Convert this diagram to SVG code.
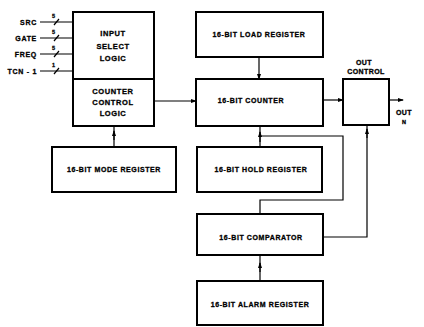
<svg xmlns="http://www.w3.org/2000/svg" width="424" height="327" viewBox="0 0 424 327">
<defs>
<marker id="ah" viewBox="0 0 6 6" refX="5" refY="3" markerWidth="6" markerHeight="6" markerUnits="userSpaceOnUse" orient="auto">
<path d="M0,1 L6,3 L0,5 Z" fill="#000"/>
</marker>
<style>
.box{fill:#fff;stroke:#000;stroke-width:2}
.ln{fill:none;stroke:#000;stroke-width:1.2}
.t{font-family:"Liberation Sans",Arial,sans-serif;font-weight:bold;font-size:7px;fill:#000;stroke:#000;stroke-width:0.3px;text-anchor:middle;letter-spacing:0.6px}
.s{font-family:"Liberation Sans",Arial,sans-serif;font-weight:bold;font-size:7px;fill:#000;stroke:#000;stroke-width:0.3px;letter-spacing:0.7px}
</style>
</defs>
<rect width="424" height="327" fill="#fff"/>
<g id="connectors">
<path class="ln" d="M40,22 H73 M40,38 H73 M40,54 H73 M40,71 H73"/>
<path class="ln" d="M54,25 L59,19 M54,41 L59,35 M54,57 L59,51 M54,74 L59,68"/>
<path class="ln" d="M154,101 H196" marker-end="url(#ah)"/>
<path class="ln" d="M259,57 V79" marker-end="url(#ah)"/>
<path class="ln" d="M323,100 H343" marker-end="url(#ah)"/>
<path class="ln" d="M389,100 H403" marker-end="url(#ah)"/>
<path class="ln" d="M114,147 V126"/>
<path class="ln" d="M114,140 V131" marker-end="url(#ah)"/>
<path class="ln" d="M260,147 V126 M260,136 H343 V200 H260 V214"/>
<path class="ln" d="M260,142 V132" marker-end="url(#ah)"/>
<path class="ln" d="M323,237 H367 V125"/>
<path class="ln" d="M367,138 V129" marker-end="url(#ah)"/>
<path class="ln" d="M260,281 V255"/>
<path class="ln" d="M260,272 V263" marker-end="url(#ah)"/>
</g>
<g id="inputs">
<text class="s" x="37" y="24.5" text-anchor="end">SRC</text>
<text class="s" x="37" y="40.5" text-anchor="end">GATE</text>
<text class="s" x="37" y="56.5" text-anchor="end">FREQ</text>
<text class="s" x="37" y="73.5" text-anchor="end">TCN - 1</text>
<text class="s" x="52" y="18" style="font-size:5.5px;letter-spacing:0">5</text>
<text class="s" x="52" y="34" style="font-size:5.5px;letter-spacing:0">5</text>
<text class="s" x="52" y="50" style="font-size:5.5px;letter-spacing:0">5</text>
<text class="s" x="52" y="67" style="font-size:5.5px;letter-spacing:0">1</text>
</g>
<g id="input-select">
<rect class="box" x="73" y="12" width="81" height="67"/>
<text class="t" x="113" y="36" style="font-size:7.5px">INPUT</text>
<text class="t" x="113" y="49" style="font-size:7.5px">SELECT</text>
<text class="t" x="113" y="61" style="font-size:7.5px">LOGIC</text>
</g>
<g id="counter-control">
<rect class="box" x="73" y="79" width="81" height="47"/>
<text class="t" x="113" y="93.5" style="font-size:7.5px">COUNTER</text>
<text class="t" x="113" y="104.5" style="font-size:7.5px">CONTROL</text>
<text class="t" x="113" y="115.5" style="font-size:7.5px">LOGIC</text>
</g>
<g id="mode-register">
<rect class="box" x="52" y="147" width="124" height="45"/>
<text class="t" x="114" y="172">16-BIT MODE REGISTER</text>
</g>
<g id="load-register">
<rect class="box" x="196" y="12" width="127" height="45"/>
<text class="t" x="259" y="37">16-BIT LOAD REGISTER</text>
</g>
<g id="counter">
<rect class="box" x="196" y="79" width="127" height="47"/>
<text class="t" x="251" y="103">16-BIT COUNTER</text>
</g>
<g id="out-control">
<rect class="box" x="343" y="79" width="46" height="46"/>
<text class="t" x="364" y="65" style="letter-spacing:0.4px">OUT</text>
<text class="t" x="366" y="74" style="letter-spacing:0.4px">CONTROL</text>
</g>
<g id="out">
<text class="t" x="404" y="115" style="letter-spacing:0.4px">OUT</text>
<text class="t" x="404" y="124" style="font-size:5.5px;letter-spacing:0">N</text>
</g>
<g id="hold-register">
<rect class="box" x="197" y="147" width="125" height="45"/>
<text class="t" x="261" y="172">16-BIT HOLD REGISTER</text>
</g>
<g id="comparator">
<rect class="box" x="197" y="214" width="126" height="41"/>
<text class="t" x="261" y="240">16-BIT COMPARATOR</text>
</g>
<g id="alarm-register">
<rect class="box" x="197" y="281" width="126" height="44"/>
<text class="t" x="260" y="307">16-BIT ALARM REGISTER</text>
</g>
</svg>
